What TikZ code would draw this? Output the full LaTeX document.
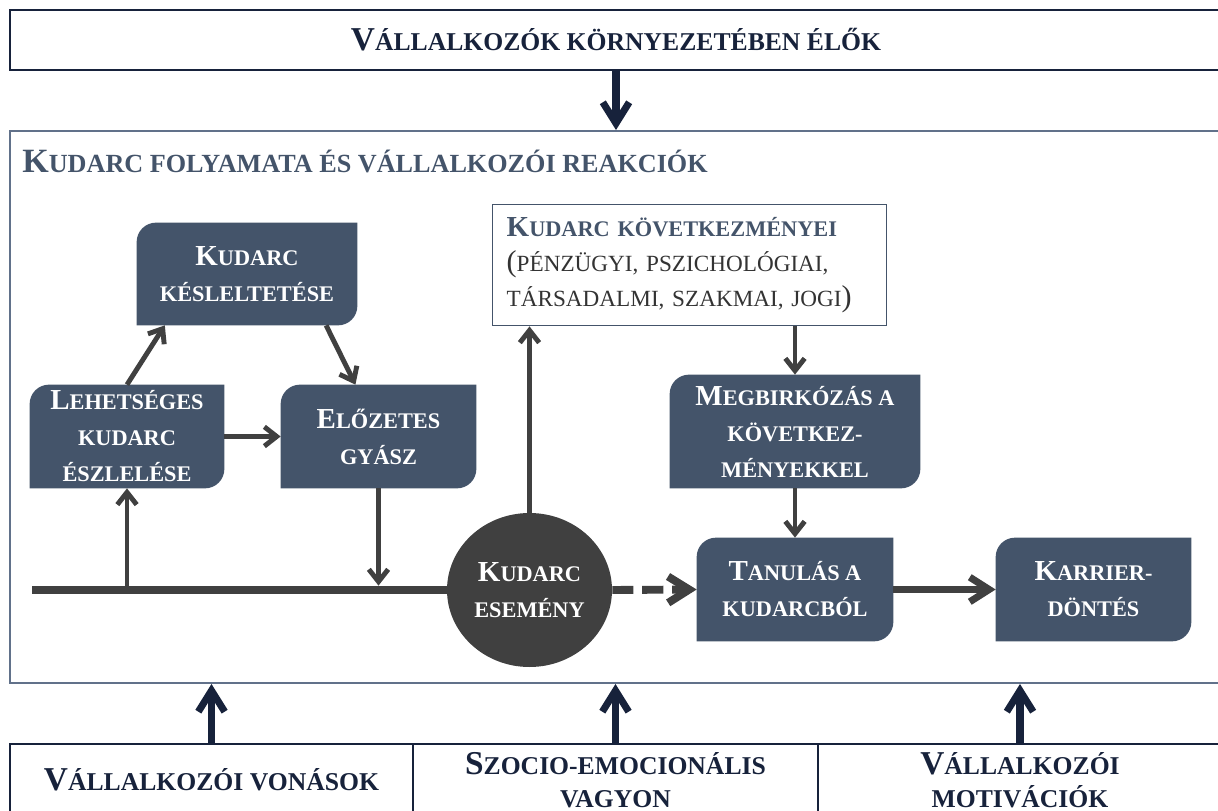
\documentclass[tikz,border=0pt]{standalone}
\usepackage{fontspec}
\setmainfont{Liberation Serif}
\usetikzlibrary{arrows.meta,shapes.geometric,backgrounds}
\definecolor{dobozkek}{HTML}{44546A}
\definecolor{sotetkek}{HTML}{17223B}
\definecolor{nyilszurke}{HTML}{404040}
\definecolor{keretkek}{HTML}{61718A}
\definecolor{szoveg}{HTML}{333333}
\newcommand\px{0.02cm}
\makeatletter
\newdimen\nagydim
\newcommand\nb[1]{{\nagydim=\f@size pt\nagydim=1.3\nagydim\fontsize{\nagydim}{\nagydim}\selectfont#1}}
\makeatother
\begin{document}
\begin{tikzpicture}[x=\px, y=-\px,
  lepes/.style={text=white, font=\bfseries\fontsize{12.7}{20.5}\selectfont, align=center, inner sep=0pt},
  fejlec/.style={text=sotetkek, font=\bfseries\fontsize{14.6}{19}\selectfont, align=center},
  keret/.style={draw=sotetkek, line width=1.1pt},
  nyil/.style={draw=nyilszurke, line width=2.8pt, -{Straight Barb[length=7pt,width=11pt]}},
  vastagnyil/.style={draw=nyilszurke, line width=4pt, -{Straight Barb[length=11pt,width=14pt]}},
  szaggatott/.style={draw=nyilszurke, line width=4.5pt, dash pattern=on 12pt off 5pt, -{Straight Barb[length=12pt,width=15pt]}},
  navynyil/.style={draw=sotetkek, line width=4pt, -{Straight Barb[length=12pt,width=15pt]}}]
  \useasboundingbox (0,0) rectangle (1218,811);
  \clip (0,0) rectangle (1218,811);
  \node[keret, fejlec, minimum width=1212*\px, minimum height=60*\px] (kornyezet) at (616,40) {\nb{V}ÁLLALKOZÓK KÖRNYEZETÉBEN ÉLŐK};
  \node[draw=keretkek, line width=1.1pt, minimum width=1212*\px, minimum height=552*\px] (folyamat) at (616,407) {};
  \node[anchor=west, inner sep=0pt, text=dobozkek, font=\bfseries\fontsize{14.9}{21.5}\selectfont] (cim) at (22,161) {\nb{K}UDARC FOLYAMATA ÉS VÁLLALKOZÓI REAKCIÓK};
  \node[keret, fejlec, minimum width=403*\px, minimum height=72*\px] (vonasok) at (211.5,780) {\nb{V}ÁLLALKOZÓI VONÁSOK};
  \node[keret, fejlec, minimum width=405*\px, minimum height=72*\px] (vagyon) at (615.5,780) {\nb{S}ZOCIO-EMOCIONÁLIS\\VAGYON};
  \node[keret, fejlec, minimum width=404*\px, minimum height=72*\px] (motivaciok) at (1020,780) {\nb{V}ÁLLALKOZÓI\\MOTIVÁCIÓK};
  \draw[navynyil] (kornyezet.south) -- (folyamat.north);
  \foreach \n in {vonasok,vagyon,motivaciok}
    \draw[navynyil] (\n.north) -- (\n.north |- folyamat.south);

  \node[lepes, minimum width=220*\px, minimum height=102*\px] (kesl) at (247,274) {\nb{K}UDARC\\KÉSLELTETÉSE};
  \node[lepes, minimum width=194*\px, minimum height=103*\px] (lehet) at (127,436.5) {\nb{L}EHETSÉGES\\KUDARC\\ÉSZLELÉSE};
  \node[lepes, minimum width=195*\px, minimum height=103*\px] (elozetes) at (378.5,436.5) {\nb{E}LŐZETES\\GYÁSZ};
  \node[lepes, minimum width=250*\px, minimum height=113*\px] (megbirk) at (795,431.5) {\nb{M}EGBIRKÓZÁS A\\KÖVETKEZ-\\MÉNYEKKEL};
  \node[lepes, minimum width=196*\px, minimum height=103*\px] (tanulas) at (795,589.5) {\nb{T}ANULÁS A\\KUDARCBÓL};
  \node[lepes, minimum width=195*\px, minimum height=103*\px] (karrier) at (1093.5,589.5) {\nb{K}ARRIER-\\DÖNTÉS};
  \node[lepes, ellipse, fill=nyilszurke, minimum width=165*\px, minimum height=154*\px] (esemeny) at (529.5,590) {\nb{K}UDARC\\ESEMÉNY};
  \node[draw=dobozkek, line width=0.8pt, anchor=north west, minimum height=121*\px, text width=366*\px, inner xsep=14*\px, inner ysep=0pt, align=left, text=szoveg, font=\fontsize{13.2}{20}\selectfont] (kovetk) at (492,204) {{\color{dobozkek}\bfseries\fontsize{12.7}{20}\selectfont\nb{K}UDARC KÖVETKEZMÉNYEI}\\\nb{(}PÉNZÜGYI, PSZICHOLÓGIAI,\\TÁRSADALMI, SZAKMAI, JOGI\nb{)}};
  \begin{scope}[on background layer]
    \foreach \n in {kesl,lehet,elozetes,megbirk,tanulas,karrier}
      \fill[dobozkek] ([yshift=-11pt]\n.north west) arc[start angle=180, end angle=90, radius=11pt] -- (\n.north east) -- ([yshift=11pt]\n.south east) arc[start angle=0, end angle=-90, radius=11pt] -- (\n.south west) -- cycle;
  \end{scope}

  \coordinate (idokezd) at (32,590);
  \draw[nyilszurke, line width=4.5pt] (idokezd) -- (esemeny.west);
  \draw[nyil] (lehet |- idokezd) -- (lehet.south);
  \draw[nyil] (lehet.east) -- (elozetes.west);
  \draw[nyil] (lehet.north) -- (kesl.212);
  \draw[nyil] (kesl.327) -- (elozetes.114);
  \draw[nyil, shorten >=2.5pt] (elozetes.south) -- (elozetes.south |- idokezd);
  \draw[nyil] (esemeny.north) -- (esemeny.north |- kovetk.south);
  \draw[nyil] (kovetk.south -| megbirk.north) -- (megbirk.north);
  \draw[nyil] (megbirk.south) -- (tanulas.north);
  \draw[szaggatott] (esemeny.east) -- (tanulas.west);
  \draw[vastagnyil] (tanulas.east) -- (karrier.west);
\end{tikzpicture}
\end{document}
